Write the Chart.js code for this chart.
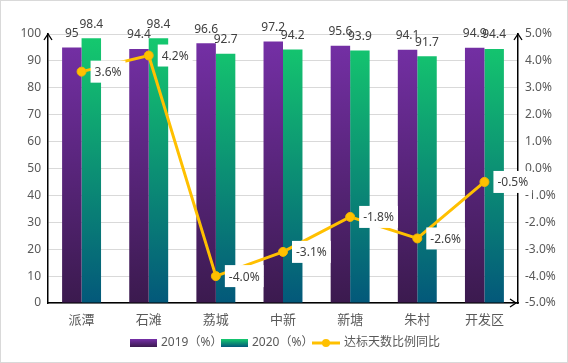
<!DOCTYPE html>
<html>
<head>
<meta charset="utf-8">
<script src="https://cdn.jsdelivr.net/npm/chart.js@4"></script>
<style>
  html, body { margin: 0; padding: 0; background: #fff; }
  #wrap { position: relative; width: 568px; height: 363px; box-sizing: border-box; border: 1px solid #D9D9D9; }
  canvas { display: block; }
</style>
</head>
<body>
<div id="wrap"><canvas id="c" width="566" height="361"></canvas></div>
<script>
const categories = ['派潭', '石滩', '荔城', '中新', '新塘', '朱村', '开发区'];
const values2019 = [95, 94.4, 96.6, 97.2, 95.6, 94.1, 94.9];
const values2020 = [98.4, 98.4, 92.7, 94.2, 93.9, 91.7, 94.4];
const yoyChange = [3.6, 4.2, -4.0, -3.1, -1.8, -2.6, -0.5];
const seriesNames = ['2019（%）', '2020（%）', '达标天数比例同比'];

const FONT = "'Noto Sans', 'Noto Sans CJK SC', sans-serif";
const TEXT = '#595959';
const GOLD = '#FFC000';

// vertical gradients spanning the plot area, like the Excel fill
function barGradient(ctx, area, top, bottom) {
  const g = ctx.createLinearGradient(0, area.top, 0, area.bottom);
  g.addColorStop(0, top);
  g.addColorStop(1, bottom);
  return g;
}
const purpleFill = (c) => c.chart.chartArea ? barGradient(c.chart.ctx, c.chart.chartArea, '#7630A8', '#3B1A4E') : '#7630A8';
const greenFill = (c) => c.chart.chartArea ? barGradient(c.chart.ctx, c.chart.chartArea, '#15CA6E', '#03587A') : '#15CA6E';

function arrowHead(ctx, x, y, dir) {
  ctx.beginPath();
  if (dir === 'up') {
    ctx.moveTo(x - 4, y + 6); ctx.lineTo(x, y); ctx.lineTo(x + 4, y + 6);
  } else {
    ctx.moveTo(x - 6, y - 4); ctx.lineTo(x, y); ctx.lineTo(x - 6, y + 4);
  }
  ctx.stroke();
}

const decorations = {
  id: 'decorations',
  afterDatasetsDraw(chart) {
    const ctx = chart.ctx;
    const a = chart.chartArea;
    ctx.save();
    // axis arrows
    ctx.strokeStyle = '#000';
    ctx.lineWidth = 1.3;
    arrowHead(ctx, a.left, a.top, 'up');
    arrowHead(ctx, a.right, a.top, 'up');
    arrowHead(ctx, a.right - 2, a.bottom, 'right');

    // bar value labels (datasets 1 and 2 are the bars)
    ctx.font = '12px ' + FONT;
    ctx.fillStyle = '#404040';
    ctx.textAlign = 'center';
    ctx.textBaseline = 'middle';
    [1, 2].forEach(di => {
      const meta = chart.getDatasetMeta(di);
      meta.data.forEach((bar, i) => {
        const v = chart.data.datasets[di].data[i];
        ctx.fillText(String(v), bar.x, bar.y - 14);
      });
    });

    // line value labels in white boxes
    const lm = chart.getDatasetMeta(0);
    lm.data.forEach((pt, i) => {
      const txt = yoyChange[i].toFixed(1) + '%';
      const w = ctx.measureText(txt).width + 8;
      const x0 = pt.x + 9, y0 = pt.y - 11;
      ctx.fillStyle = '#fff';
      ctx.fillRect(x0, y0, w, 22);
      ctx.fillStyle = '#404040';
      ctx.textAlign = 'left';
      ctx.fillText(txt, x0 + 4, pt.y + 1);
    });
    ctx.restore();
  },
  afterDraw(chart) {
    const ctx = chart.ctx;
    ctx.save();
    ctx.font = '12px ' + FONT;
    ctx.textBaseline = 'middle';
    ctx.textAlign = 'left';
    const y = 342;
    // 2019
    let g = ctx.createLinearGradient(0, y - 4, 0, y + 4);
    g.addColorStop(0, '#7630A8'); g.addColorStop(1, '#3B1A4E');
    ctx.fillStyle = g; ctx.fillRect(129, y - 4, 27, 8);
    ctx.fillStyle = TEXT; ctx.fillText(seriesNames[0], 160, y);
    // 2020
    g = ctx.createLinearGradient(0, y - 4, 0, y + 4);
    g.addColorStop(0, '#15CA6E'); g.addColorStop(1, '#03587A');
    ctx.fillStyle = g; ctx.fillRect(220, y - 4, 27, 8);
    ctx.fillStyle = TEXT; ctx.fillText(seriesNames[1], 251, y);
    // line
    ctx.strokeStyle = GOLD; ctx.lineWidth = 3;
    ctx.beginPath(); ctx.moveTo(311, y); ctx.lineTo(339, y); ctx.stroke();
    ctx.fillStyle = GOLD;
    ctx.beginPath(); ctx.arc(325, y, 4, 0, Math.PI * 2); ctx.fill();
    ctx.fillStyle = TEXT; ctx.fillText(seriesNames[2], 343, y);
    ctx.restore();
  }
};

new Chart(document.getElementById('c'), {
  data: {
    labels: categories,
    datasets: [
      {
        type: 'line',
        label: seriesNames[2],
        data: yoyChange,
        yAxisID: 'yR',
        borderColor: GOLD,
        backgroundColor: GOLD,
        borderWidth: 3,
        pointRadius: 4.5,
        pointBorderColor: '#F2B600',
        pointBorderWidth: 1,
        tension: 0,
        order: 0
      },
      {
        type: 'bar',
        label: seriesNames[0],
        data: values2019,
        yAxisID: 'y',
        backgroundColor: purpleFill,
        barPercentage: 1,
        categoryPercentage: 0.58,
        order: 1
      },
      {
        type: 'bar',
        label: seriesNames[1],
        data: values2020,
        yAxisID: 'y',
        backgroundColor: greenFill,
        barPercentage: 1,
        categoryPercentage: 0.58,
        order: 1
      }
    ]
  },
  options: {
    responsive: false,
    animation: false,
    layout: { padding: { top: 33, left: 0, right: 0, bottom: 0 } },
    plugins: { legend: { display: false }, tooltip: { enabled: false } },
    scales: {
      x: {
        grid: { display: false, drawTicks: false },
        border: { display: true, color: '#000', width: 1.5 },
        ticks: { color: TEXT, font: { family: FONT, size: 13 }, padding: 9 },
        afterFit(s) { s.height = 59; }
      },
      y: {
        position: 'left',
        min: 0, max: 100,
        grid: { color: '#D9D9D9', drawTicks: false },
        border: { display: true, color: '#000', width: 1.5 },
        ticks: { stepSize: 10, color: TEXT, font: { family: FONT, size: 12 }, padding: 7 },
        afterFit(s) { s.width = 47; }
      },
      yR: {
        position: 'right',
        min: -5, max: 5,
        grid: { display: false, drawTicks: false },
        border: { display: true, color: '#000', width: 1.5 },
        ticks: {
          stepSize: 1, color: TEXT, font: { family: FONT, size: 12 }, padding: 7,
          callback: v => v.toFixed(1) + '%'
        },
        afterFit(s) { s.width = 49; }
      }
    }
  },
  plugins: [decorations]
});
</script>
</body>
</html>
